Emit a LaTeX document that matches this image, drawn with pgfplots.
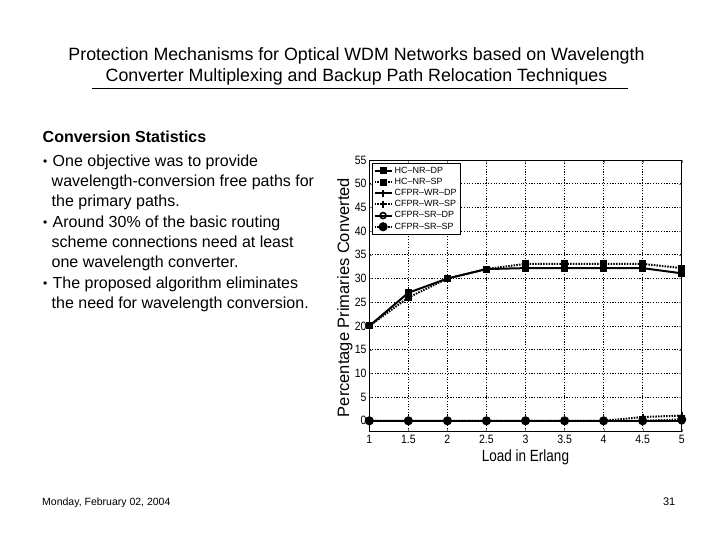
\documentclass[border=0pt]{standalone}
\usepackage{fontspec}
\setmainfont{Liberation Sans}
\usepackage{pgfplots}
\pgfplotsset{compat=1.18}
\begin{document}
\begin{tikzpicture}
\path[fill=white,use as bounding box] (0,0) rectangle (720bp,-540bp);
\begin{scope}[x=1bp,y=-1bp]
% title
\node[anchor=base,inner sep=0,font=\fontsize{17.8bp}{20bp}\selectfont] at (356.5,60)
  {Protection Mechanisms for Optical WDM Networks based on Wavelength};
\node[anchor=base,inner sep=0,font=\fontsize{17.8bp}{20bp}\selectfont] at (356.5,81)
  {Converter Multiplexing and Backup Path Relocation Techniques};
\draw[line width=0.8bp] (92,88) -- (628,88);
% left column
\node[anchor=base west,inner sep=0,font=\fontsize{16bp}{19bp}\selectfont\bfseries] at (42.5,142.7)
  {Conversion Statistics};
\begin{scope}[every node/.style={anchor=base west,inner sep=0,font=\fontsize{16bp}{19bp}\selectfont}]
\node[font=\fontsize{12bp}{12bp}\selectfont] at (43,165) {•};
\node at (52.5,166.5) {One objective was to provide};
\node at (51.5,186.5) {wavelength-conversion free paths for};
\node at (51.5,206.5) {the primary paths.};
\node[font=\fontsize{12bp}{12bp}\selectfont] at (43,226) {•};
\node at (52.5,227.5) {Around 30\% of the basic routing};
\node at (51.5,247.5) {scheme connections need at least};
\node at (51.5,267.5) {one wavelength converter.};
\node[font=\fontsize{12bp}{12bp}\selectfont] at (43,287) {•};
\node at (52.5,288.5) {The proposed algorithm eliminates};
\node at (51.5,308.5) {the need for wavelength conversion.};
\end{scope}
% footer
\node[anchor=base west,inner sep=0,font=\fontsize{10.5bp}{12bp}\selectfont] at (42,505.7)
  {Monday, February 02, 2004};
\node[anchor=base east,inner sep=0,font=\fontsize{11bp}{13bp}\selectfont] at (675.5,505.7) {31};
\end{scope}

\begin{axis}[
at={(369.3bp,-431.7bp)}, anchor=south west,
scale only axis,
width=312.4bp, height=271.7bp,
xmin=1, xmax=5,
ymin=-2.3, ymax=55,
xtick={1,1.5,...,5},
ytick={0,5,...,55},
tick align=inside,
major tick length=3bp,
axis line style={line width=0.6bp},
grid=major,
major grid style={black,line width=0.7bp,dash pattern=on 1.2bp off 1.5bp},
/pgf/number format/assume math mode=true,
/pgf/number format/.cd, fixed, precision=1,
/pgfplots/.cd,
tick label style={font=\fontsize{10.5bp}{12bp}\selectfont,yscale=1.15},
xticklabel style={anchor=north,inner sep=0pt,yshift=-3bp},
yticklabel style={anchor=east,inner sep=0pt,xshift=-2.6bp},
xlabel={Load in Erlang},
ylabel={Percentage Primaries Converted},
xlabel style={at={(axis description cs:0.5,-0.093)},anchor=center,inner sep=0pt,
  font=\fontsize{13.5bp}{15bp}\selectfont,yscale=1.2},
ylabel style={at={(axis description cs:-0.078,0.494)},anchor=center,inner sep=0pt,
  font=\fontsize{16.5bp}{18bp}\selectfont},
legend style={at={(axis description cs:0.008,0.988)},anchor=north west,
  font=\fontsize{9bp}{9bp}\selectfont,inner sep=1.5bp,row sep=-0.6bp,
  draw=black,line width=0.6bp,cells={anchor=west}},
legend cell align=left,
]
\addplot[black,line width=2bp,mark=square*,mark size=2.5bp,solid] coordinates {
(1,20)(1.5,27)(2,30)(2.5,32)(3,32.2)(3.5,32.2)(4,32.2)(4.5,32.2)(5,31.1)};
\addlegendentry{HC--NR--DP}
\addplot[black,line width=2bp,mark=square*,mark size=2.5bp,mark options={solid},dash pattern=on 1.5bp off 1.2bp] coordinates {
(1,20)(1.5,26)(2,30)(2.5,32)(3,33.1)(3.5,33.1)(4,33.1)(4.5,33.1)(5,32.2)};
\addlegendentry{HC--NR--SP}
\addplot[black,line width=2bp,mark=+,mark size=3.5bp,solid] coordinates {
(1,0)(1.5,0)(2,0)(2.5,0)(3,0)(3.5,0)(4,0)(4.5,0)(5,0)};
\addlegendentry{CFPR--WR--DP}
\addplot[black,line width=2bp,mark=+,mark size=3.5bp,mark options={solid},dash pattern=on 1.5bp off 1.2bp] coordinates {
(1,0)(1.5,0)(2,0)(2.5,0)(3,0)(3.5,0)(4,0)(4.5,0.8)(5,1.1)};
\addlegendentry{CFPR--WR--SP}
\addplot[black,line width=2bp,mark=o,mark size=3bp,mark options={solid,line width=1.6bp},solid] coordinates {
(1,0)(1.5,0)(2,0)(2.5,0)(3,0)(3.5,0)(4,0)(4.5,0)(5,0)};
\addlegendentry{CFPR--SR--DP}
\addplot[black,line width=2bp,mark=*,mark size=3.5bp,mark options={solid},dash pattern=on 1.5bp off 1.2bp] coordinates {
(1,0)(1.5,0)(2,0)(2.5,0)(3,0)(3.5,0)(4,0)(4.5,0)(5,0.3)};
\addlegendentry{CFPR--SR--SP}
\end{axis}
\end{tikzpicture}
\end{document}
